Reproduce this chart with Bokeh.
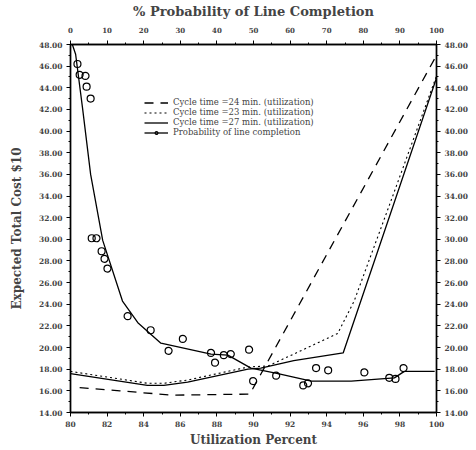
from bokeh.plotting import figure
from bokeh.models import (Range1d, LinearAxis, SingleIntervalTicker, NumeralTickFormatter,
                          Legend, LegendItem)
from bokeh.embed import file_html
from bokeh.resources import INLINE

# Cost (x $10) vs utilization percent, three cycle times
util_24 = [80.5, 82.7, 84.5, 85.5, 89.8, 100.0]
cost_24 = [16.3, 16.0, 15.75, 15.6, 15.7, 47.0]

util_23 = [80.0, 84.2, 85.1, 86.4, 89.7, 90.8, 92.2, 94.6, 95.5, 97.5, 100.0]
cost_23 = [17.8, 16.7, 16.7, 17.0, 18.2, 18.3, 19.4, 21.3, 24.3, 33.5, 45.1]

util_27 = [80.0, 84.2, 85.1, 86.4, 89.7, 90.4, 92.2, 94.9, 100.0]
cost_27 = [17.6, 16.5, 16.5, 16.8, 18.0, 18.1, 18.8, 19.5, 44.9]

# Cost vs probability of line completion (top axis)
prob_curve = [0.5, 1.4, 3.3, 5.5, 8.8, 14.2, 18.4, 24.7, 38.4, 43.0, 49.3, 56.7, 65.8, 76.7, 88.5, 91.2, 99.5]
cost_curve = [48.0, 47.1, 42.1, 36.0, 29.9, 24.3, 22.3, 20.4, 19.4, 19.3, 18.1, 17.6, 16.9, 16.9, 17.2, 17.8, 17.8]

prob_pts = [1.9, 2.5, 4.1, 4.4, 5.5, 5.8, 7.1, 8.5, 9.3, 10.1, 15.6, 21.9, 30.7, 26.8, 38.4, 39.5,
            41.9, 43.8, 48.8, 49.9, 56.2, 63.6, 64.9, 67.1, 70.4, 80.3, 87.1, 88.8, 91.0]
cost_pts = [46.2, 45.2, 45.1, 44.1, 43.0, 30.1, 30.1, 28.9, 28.2, 27.3, 22.9, 21.6, 20.8, 19.7, 19.5, 18.6,
            19.3, 19.4, 19.8, 16.9, 17.4, 16.5, 16.7, 18.1, 17.9, 17.7, 17.2, 17.1, 18.1]

legend_labels = ["Cycle time =24 min. (utilization)",
                 "Cycle time =23 min. (utilization)",
                 "Cycle time =27 min. (utilization)",
                 "Probability of line completion"]

FONT = "DejaVu Serif"

p = figure(width=476, height=450, output_backend="svg", toolbar_location=None,
           x_range=Range1d(80, 100), y_range=Range1d(14, 48),
           min_border_left=70, min_border_right=40, min_border_top=43, min_border_bottom=38)
p.extra_x_ranges = {"prob": Range1d(0, 100)}
p.xgrid.visible = False
p.ygrid.visible = False
p.outline_line_color = "black"
p.outline_line_width = 1.3
p.background_fill_color = "white"

def style(ax, size="8px"):
    ax.major_label_text_font = FONT
    ax.major_label_text_font_style = "bold"
    ax.major_label_text_font_size = size
    ax.axis_label_text_font = FONT
    ax.axis_label_text_font_style = "bold"
    ax.axis_line_color = "black"
    ax.axis_line_width = 1.5
    ax.major_tick_line_color = "black"
    ax.minor_tick_line_color = "black"
    ax.major_tick_in = 0
    ax.major_tick_out = 4
    ax.minor_tick_in = 0
    ax.minor_tick_out = 2
    ax.major_label_standoff = 4

# bottom
xa = p.xaxis[0]
xa.ticker = SingleIntervalTicker(interval=2, num_minor_ticks=2)
xa.axis_label = "Utilization Percent"
style(xa, "7.5px")
xa.axis_label_text_font_size = "12px"
xa.axis_label_standoff = 3

# left
ya = p.yaxis[0]
ya.ticker = SingleIntervalTicker(interval=2, num_minor_ticks=2)
ya.formatter = NumeralTickFormatter(format="0.00")
ya.axis_label = "Expected Total Cost $10"
style(ya, "7.5px")
ya.axis_label_text_font_size = "12px"
ya.axis_label_standoff = 12

# right
yr = LinearAxis(ticker=SingleIntervalTicker(interval=2, num_minor_ticks=2),
                formatter=NumeralTickFormatter(format="0.00"))
style(yr, "7.5px")
p.add_layout(yr, "right")

# top
xt = LinearAxis(x_range_name="prob", ticker=SingleIntervalTicker(interval=10, num_minor_ticks=2),
                axis_label="% Probability of Line Completion")
style(xt, "7px")
xt.major_label_standoff = 8
xt.axis_label_text_font_size = "13px"
xt.axis_label_standoff = 5
p.add_layout(xt, "above")

r24 = p.line(util_24, cost_24, line_color="black", line_width=1.3, line_dash="9 7")
r23 = p.line(util_23, cost_23, line_color="black", line_width=1.1, line_dash="2 3")
r27 = p.line(util_27, cost_27, line_color="black", line_width=1.3)
rpc = p.line(prob_curve, cost_curve, x_range_name="prob", line_color="black", line_width=1.3)
rpp = p.scatter(prob_pts, cost_pts, x_range_name="prob", marker="circle", size=7,
                fill_color=None, line_color="black", line_width=1.2)

legend = Legend(items=[LegendItem(label=legend_labels[0], renderers=[r24]),
                       LegendItem(label=legend_labels[1], renderers=[r23]),
                       LegendItem(label=legend_labels[2], renderers=[r27]),
                       LegendItem(label=legend_labels[3], renderers=[rpc, rpp])],
                location=(73, 274), label_text_font=FONT, label_text_font_size="8.5px",
                label_height=7, glyph_height=7, glyph_width=24, spacing=0, padding=1,
                label_standoff=5, border_line_alpha=0, background_fill_alpha=0)
p.add_layout(legend, "center")

open("out.html", "w").write(file_html(p, INLINE))
